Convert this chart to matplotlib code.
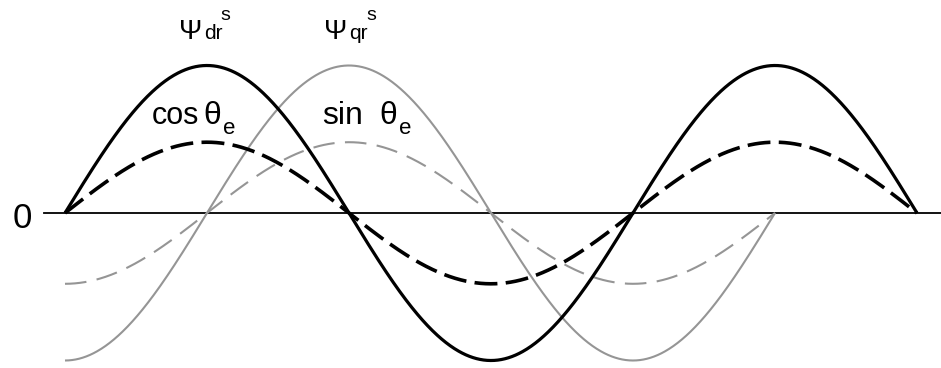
import numpy as np
import matplotlib
matplotlib.use("Agg")
import matplotlib.pyplot as plt

plt.rcParams["font.family"] = ["Liberation Sans", "DejaVu Sans"]
plt.rcParams["lines.scale_dashes"] = False

# Electrical angle ranges, in units of pi
d_axis_start, d_axis_end = -0.5, 2.5    # psi_dr and cos(theta_e)
q_axis_start, q_axis_end = -0.5, 2.0    # psi_qr and sin(theta_e)

# Amplitudes relative to the rotor flux peak
flux_amplitude = 1.0
unit_vector_amplitude = 0.48

W, H = 941, 368
fig = plt.figure(figsize=(W / 100, H / 100), dpi=100)
ax = fig.add_axes([0, 0, 1, 1])
ax.set_axis_off()

# Horizontal scale: 284 px per pi, theta_e = -pi/2 at x = 65 px
px_per_unit = 284.0
x0_px = 65.0
ax.set_xlim(d_axis_start - x0_px / px_per_unit, d_axis_start + (W - x0_px) / px_per_unit)
# Vertical scale: zero line at 213 px, unit amplitude = 147.5 px
zero_px, amp_px = 213.0, 147.5
ax.set_ylim(-(H - zero_px) / amp_px, zero_px / amp_px)

td = np.linspace(d_axis_start, d_axis_end, 1200)
tq = np.linspace(q_axis_start, q_axis_end, 1000)

gray = "#959595"

# q-axis quantities (grey)
ax.plot(tq, flux_amplitude * np.sin(np.pi * tq), color=gray, lw=1.5,
        solid_capstyle="butt", zorder=2)
ax.plot(tq, unit_vector_amplitude * np.sin(np.pi * tq), color=gray, lw=1.5,
        dashes=(15.5, 7.5), dash_capstyle="butt", zorder=2)

# d-axis quantities (black)
ax.plot(td, flux_amplitude * np.cos(np.pi * td), color="black", lw=2.3,
        solid_capstyle="butt", zorder=3)
ax.plot(td, unit_vector_amplitude * np.cos(np.pi * td), color="black", lw=2.6,
        dashes=(16.5, 6.0), dash_capstyle="butt", zorder=3)

# Zero reference line
ax.axhline(0, xmin=44 / W, xmax=1.0, color="black", lw=1.3, zorder=1)


def label(x_px, y_px, s, size):
    ax.text(x_px / W, 1 - y_px / H, s, transform=ax.transAxes, fontsize=size,
            ha="left", va="baseline", color="black", zorder=5)


label(13, 228, "0", 25)

label(179, 39, "\u03a8", 20)
label(204, 39, "dr", 15)
label(220, 20, "s", 14)

label(324, 39, "\u03a8", 20)
label(349, 39, "qr", 15)
label(366, 20, "s", 14)

label(152, 124, "cos", 22)
label(203, 124, "\u03b8", 23)
label(223, 134, "e", 16)

label(322, 124, "sin", 23)
label(379, 124, "\u03b8", 23)
label(399, 134, "e", 16)

fig.savefig("out.png", dpi=100)
